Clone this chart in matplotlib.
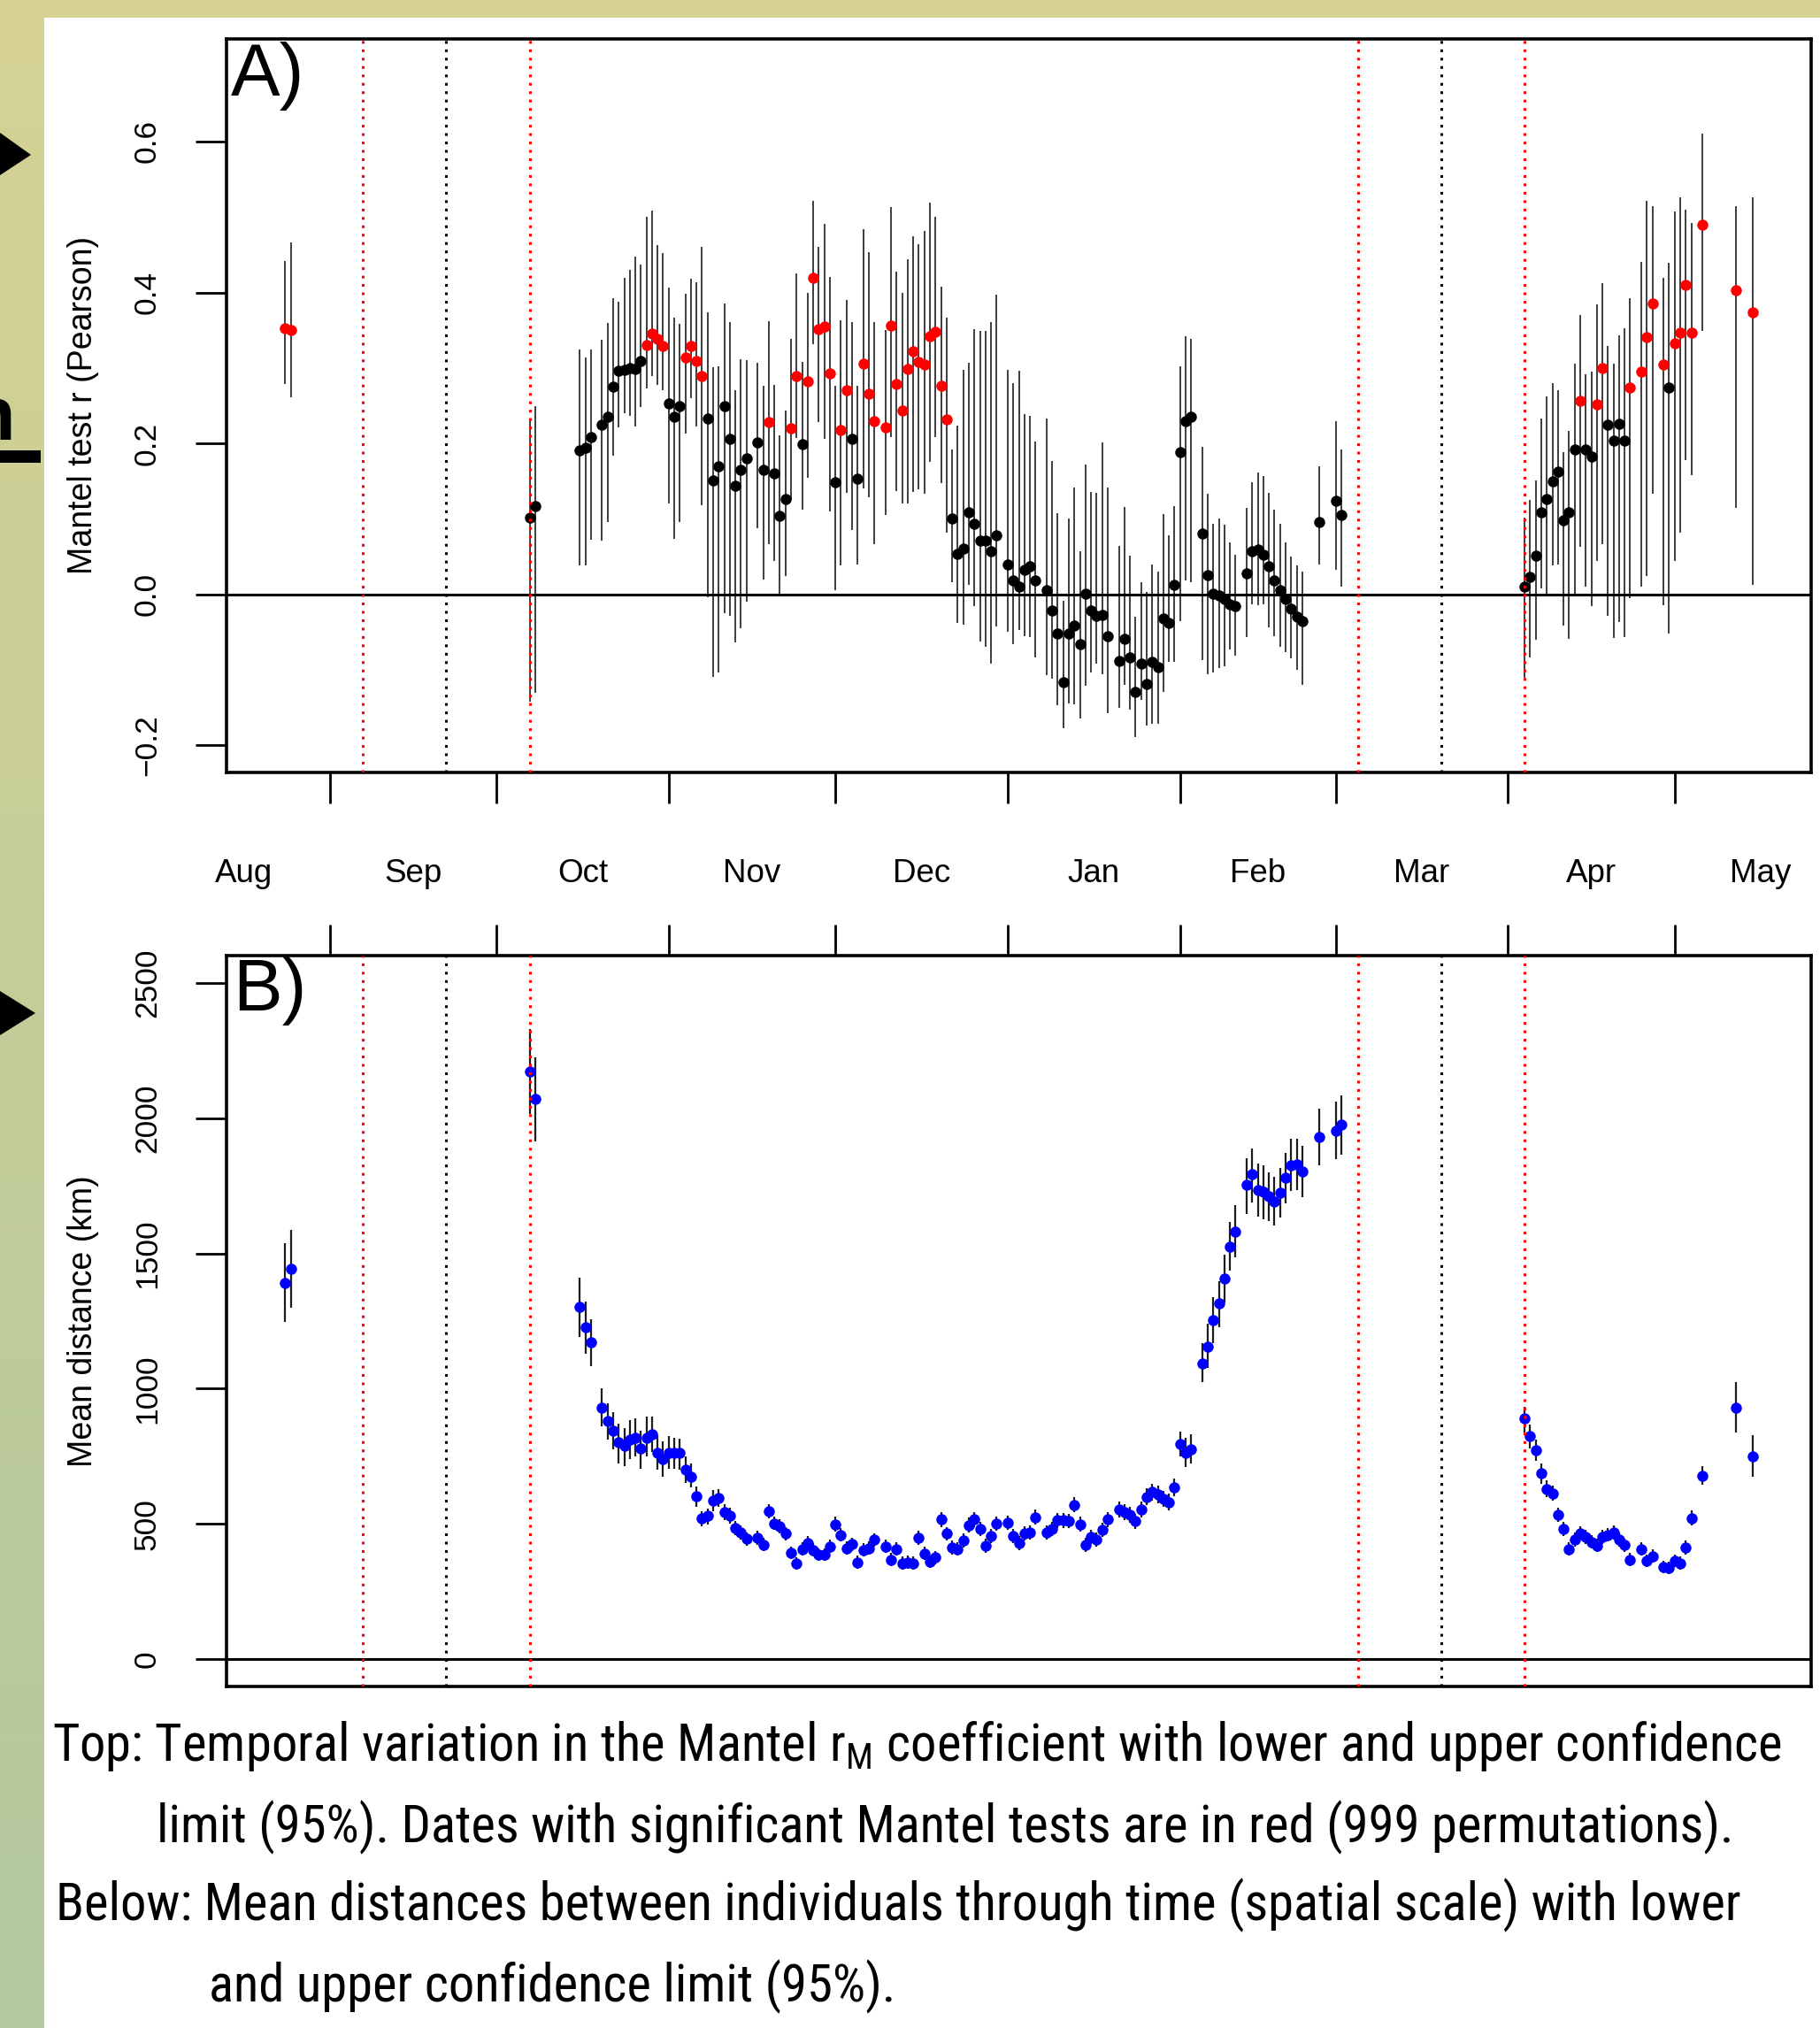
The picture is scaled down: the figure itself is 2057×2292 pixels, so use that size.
import numpy as np
import matplotlib
matplotlib.use("Agg")
import matplotlib.pyplot as plt
from matplotlib import font_manager
from matplotlib.colors import LinearSegmentedColormap
from matplotlib.patches import Rectangle, Polygon
from matplotlib.transforms import blended_transform_factory

# ---------------- data (day 0 = 1 September) ----------------
days = [-8, -7, 36, 37, 45, 46, 47,
        49, 50, 51, 52, 53, 54, 55, 56, 57, 58, 59, 60, 61, 62, 63, 64, 65, 66, 67,
        68, 69, 70, 71, 72, 73, 74, 75,
        77, 78, 79, 80, 81, 82, 83, 84, 85, 86, 87, 88, 89, 90, 91, 92, 93, 94, 95, 96, 97, 98,
        100, 101, 102, 103, 104, 105, 106, 107, 108, 109, 110, 111, 112, 113, 114, 115, 116, 117, 118, 119, 120,
        122, 123, 124, 125, 126, 127,
        129, 130, 131, 132, 133, 134, 135, 136, 137, 138, 139, 140,
        142, 143, 144, 145, 146, 147, 148, 149, 150, 151, 152, 153, 154, 155,
        157, 158, 159, 160, 161, 162, 163,
        165, 166, 167, 168, 169, 170, 171, 172, 173, 174, 175,
        178, 181, 182,
        215, 216, 217, 218, 219, 220, 221, 222, 223, 224, 225, 226, 227, 228, 229, 230, 231, 232, 233, 234,
        236, 237, 238, 240, 241, 242, 243, 244, 245, 247, 253, 256]

r_mantel = [0.353, 0.350, 0.102, 0.117, 0.191, 0.194, 0.208,
            0.225, 0.235, 0.275, 0.296, 0.298, 0.300, 0.299, 0.309, 0.330, 0.345, 0.338, 0.329, 0.253, 0.235, 0.249, 0.314, 0.329, 0.309, 0.289,
            0.233, 0.151, 0.170, 0.249, 0.206, 0.144, 0.165, 0.180,
            0.201, 0.165, 0.228, 0.160, 0.104, 0.126, 0.220, 0.289, 0.199, 0.282, 0.420, 0.352, 0.355, 0.293, 0.148, 0.218, 0.271, 0.206, 0.153, 0.306, 0.266, 0.229,
            0.221, 0.356, 0.279, 0.244, 0.299, 0.322, 0.308, 0.305, 0.342, 0.348, 0.276, 0.232, 0.100, 0.054, 0.061, 0.109, 0.094, 0.071, 0.071, 0.057, 0.078,
            0.040, 0.018, 0.010, 0.032, 0.037, 0.019,
            0.006, -0.021, -0.052, -0.116, -0.052, -0.041, -0.066, 0.001, -0.021, -0.028, -0.027, -0.056,
            -0.088, -0.059, -0.083, -0.129, -0.092, -0.119, -0.090, -0.096, -0.032, -0.038, 0.013, 0.188, 0.230, 0.235,
            0.081, 0.025, 0.001, -0.001, -0.006, -0.013, -0.016,
            0.028, 0.057, 0.060, 0.052, 0.037, 0.018, 0.006, -0.006, -0.019, -0.030, -0.035,
            0.096, 0.124, 0.105,
            0.010, 0.023, 0.051, 0.109, 0.126, 0.150, 0.163, 0.098, 0.109, 0.192, 0.257, 0.192, 0.182, 0.252, 0.300, 0.225, 0.204, 0.226, 0.204, 0.274,
            0.295, 0.341, 0.386, 0.304, 0.274, 0.333, 0.347, 0.410, 0.347, 0.490, 0.403, 0.374]

r_lo = [0.279, 0.261, -0.142, -0.131, 0.038, 0.038, 0.072,
        0.071, 0.096, 0.184, 0.221, 0.240, 0.236, 0.223, 0.248, 0.273, 0.289, 0.278, 0.270, 0.121, 0.074, 0.096, 0.213, 0.260, 0.222, 0.118,
        -0.004, -0.109, -0.104, -0.025, -0.028, -0.064, -0.045, -0.010,
        0.088, 0.020, 0.066, 0.044, 0.000, 0.024, 0.125, 0.207, 0.112, 0.155, 0.331, 0.228, 0.206, 0.110, 0.005, 0.038, 0.134, 0.085, 0.039, 0.140, 0.129, 0.066,
        0.105, 0.208, 0.137, 0.121, 0.120, 0.136, 0.139, 0.133, 0.175, 0.208, 0.147, 0.082, 0.016, -0.038, -0.040, 0.013, -0.015, -0.062, -0.069, -0.092, -0.043,
        -0.049, -0.066, -0.047, -0.056, -0.057, -0.084,
        -0.107, -0.112, -0.147, -0.177, -0.145, -0.146, -0.165, -0.121, -0.104, -0.092, -0.106, -0.158,
        -0.150, -0.120, -0.153, -0.189, -0.140, -0.174, -0.172, -0.172, -0.129, -0.090, -0.090, -0.035, 0.018, 0.016,
        -0.087, -0.106, -0.104, -0.098, -0.095, -0.073, -0.081,
        -0.057, -0.013, -0.014, -0.013, -0.044, -0.056, -0.069, -0.076, -0.085, -0.100, -0.120,
        0.040, 0.032, 0.010,
        -0.110, -0.084, -0.060, 0.008, -0.003, 0.038, 0.039, -0.041, -0.059, -0.003, 0.063, 0.010, -0.016, 0.044, 0.066, -0.028, -0.058, -0.037, -0.057, -0.005,
        0.010, 0.024, 0.133, -0.014, -0.052, 0.044, 0.082, 0.178, 0.158, 0.349, 0.114, 0.012]

r_hi = [0.442, 0.466, 0.232, 0.249, 0.324, 0.314, 0.324,
        0.337, 0.360, 0.393, 0.388, 0.420, 0.430, 0.447, 0.437, 0.500, 0.509, 0.463, 0.452, 0.407, 0.367, 0.358, 0.398, 0.418, 0.414, 0.461,
        0.374, 0.301, 0.302, 0.385, 0.361, 0.270, 0.312, 0.310,
        0.307, 0.276, 0.362, 0.278, 0.211, 0.244, 0.339, 0.425, 0.308, 0.399, 0.522, 0.461, 0.491, 0.421, 0.276, 0.363, 0.390, 0.361, 0.276, 0.484, 0.453, 0.361,
        0.350, 0.513, 0.428, 0.399, 0.444, 0.475, 0.464, 0.481, 0.519, 0.500, 0.408, 0.367, 0.192, 0.224, 0.298, 0.307, 0.352, 0.349, 0.349, 0.361, 0.397,
        0.298, 0.280, 0.296, 0.239, 0.237, 0.202,
        0.233, 0.177, 0.107, -0.008, 0.100, 0.142, 0.057, 0.172, 0.136, 0.135, 0.201, 0.141,
        0.064, 0.116, 0.051, -0.030, 0.016, 0.003, 0.040, 0.030, 0.106, 0.078, 0.117, 0.302, 0.342, 0.339,
        0.196, 0.133, 0.093, 0.100, 0.092, 0.069, 0.053,
        0.114, 0.148, 0.161, 0.157, 0.134, 0.112, 0.093, 0.069, 0.050, 0.038, 0.030,
        0.170, 0.230, 0.192,
        0.102, 0.125, 0.151, 0.233, 0.262, 0.280, 0.271, 0.188, 0.216, 0.306, 0.370, 0.292, 0.295, 0.384, 0.412, 0.329, 0.306, 0.343, 0.353, 0.392,
        0.440, 0.522, 0.514, 0.419, 0.439, 0.507, 0.526, 0.510, 0.492, 0.611, 0.514, 0.526]

significant_days = [-8, -7, 57, 58, 59, 60, 64, 65, 66, 67, 79, 83, 84, 86, 87, 88, 89, 90, 92, 93,
                    96, 97, 98, 100, 101, 102, 103, 104, 105, 106, 107, 108, 109, 110, 111,
                    225, 228, 229, 234, 236, 237, 238, 240, 242, 243, 244, 245, 247, 253, 256]

dist_km = [1392, 1444, 2171, 2071, 1301, 1227, 1171,
           930, 881, 844, 802, 790, 811, 819, 779, 819, 832, 763, 740, 762, 762, 762, 702, 676, 604, 520,
           530, 586, 597, 544, 530, 485, 469, 445,
           450, 424, 546, 502, 492, 464, 394, 354, 408, 429, 404, 387, 387, 417, 499, 460, 411, 425, 359, 404, 411, 441,
           417, 368, 408, 355, 359, 355, 448, 390, 361, 376, 517, 464, 413, 408, 439, 495, 517, 481, 420, 455, 501,
           504, 455, 431, 466, 469, 525,
           469, 481, 513, 513, 511, 571, 499, 422, 452, 443, 478, 517,
           553, 545, 534, 510, 553, 601, 618, 609, 592, 580, 634, 797, 762, 776,
           1094, 1156, 1254, 1315, 1406, 1525, 1581,
           1753, 1791, 1735, 1728, 1712, 1691, 1724, 1779, 1826, 1830, 1802,
           1931, 1954, 1977,
           889, 825, 772, 688, 630, 613, 534, 481, 408, 443, 466, 452, 434, 420, 452, 460, 469, 443, 422, 368,
           408, 364, 382, 341, 338, 364, 355, 413, 522, 679, 930, 749]

dist_lo = [1248, 1299, 2015, 1914, 1192, 1129, 1084,
           860, 811, 776, 723, 714, 741, 749, 705, 749, 767, 702, 674, 705, 705, 702, 653, 635, 565, 492,
           499, 548, 565, 515, 502, 460, 444, 420,
           424, 400, 520, 478, 467, 440, 372, 332, 384, 405, 380, 364, 364, 393, 472, 436, 387, 400, 336, 380, 386, 416,
           392, 345, 383, 332, 336, 332, 422, 366, 338, 352, 490, 438, 388, 383, 413, 468, 489, 455, 395, 429, 474,
           477, 429, 405, 440, 443, 497,
           443, 455, 486, 486, 484, 543, 472, 397, 426, 417, 451, 489,
           524, 516, 505, 482, 524, 571, 587, 578, 562, 550, 602, 749, 711, 723,
           1024, 1077, 1169, 1227, 1318, 1436, 1485,
           1647, 1689, 1637, 1625, 1619, 1604, 1633, 1686, 1730, 1735, 1707,
           1826, 1847, 1866,
           837, 779, 732, 650, 599, 585, 508, 456, 384, 418, 441, 427, 409, 396, 427, 435, 444, 418, 397, 345,
           384, 341, 358, 319, 316, 341, 332, 388, 494, 644, 837, 674]

dist_hi = [1537, 1588, 2330, 2225, 1411, 1322, 1255,
           1000, 947, 912, 872, 854, 884, 889, 846, 898, 898, 828, 807, 825, 819, 814, 749, 723, 639, 548,
           557, 627, 630, 575, 560, 512, 495, 470,
           476, 448, 574, 527, 518, 490, 418, 378, 432, 455, 430, 411, 411, 441, 527, 486, 436, 450, 383, 429, 437, 467,
           442, 392, 433, 379, 383, 379, 475, 415, 385, 401, 545, 490, 439, 434, 466, 523, 545, 508, 446, 482, 529,
           532, 482, 457, 493, 496, 553,
           496, 508, 541, 541, 539, 600, 527, 448, 479, 470, 506, 545,
           583, 575, 564, 539, 583, 632, 650, 641, 623, 611, 667, 842, 819, 832,
           1169, 1239, 1339, 1397, 1494, 1616, 1677,
           1852, 1887, 1831, 1826, 1800, 1782, 1814, 1870, 1922, 1922, 1896,
           2033, 2062, 2085,
           933, 867, 811, 723, 660, 643, 560, 507, 432, 468, 491, 477, 459, 445, 477, 486, 495, 468, 447, 392,
           433, 388, 406, 364, 361, 388, 379, 439, 551, 714, 1024, 828]

month_names = ["Aug", "Sep", "Oct", "Nov", "Dec", "Jan", "Feb", "Mar", "Apr", "May"]
month_starts = [-31, 0, 30, 61, 91, 122, 153, 181, 212, 242, 273]
equinox_days = [21, 200]          # black dotted
window_days = [6, 36, 185, 215]   # red dotted (equinox +/- 15 days)

r_ticks = [-0.2, 0.0, 0.2, 0.4, 0.6]
r_ticklabels = ["\u22120.2", "0.0", "0.2", "0.4", "0.6"]
dist_ticks = [0, 500, 1000, 1500, 2000, 2500]
dist_ticklabels = ["0", "500", "1000", "1500", "2000", "2500"]

caption_lines = [
    "Top: Temporal variation in the Mantel r$_\\mathregular{M}$ coefficient with lower and upper confidence",
    "limit (95%). Dates with significant Mantel tests are in red (999 permutations).",
    "Below: Mean distances between individuals through time (spatial scale) with lower",
    "and upper confidence limit (95%).",
]

# ---------------- figure ----------------
W, H, DPI = 2057, 2292, 100
def fx(px): return px / W
def fy(py): return 1 - py / H

plt.rcParams['font.family'] = ['Liberation Sans', 'DejaVu Sans']
avail = {f.name for f in font_manager.fontManager.ttflist}
cap_font = next((f for f in ['Roboto Condensed', 'PT Sans Narrow', 'Open Sans Condensed', 'Liberation Sans'] if f in avail), 'DejaVu Sans')

fig = plt.figure(figsize=(W / DPI, H / DPI), dpi=DPI, facecolor='white')

# slide background (left and top strips)
bg = fig.add_axes([0, 0, 1, 1], zorder=-10)
bg.set_xlim(0, W); bg.set_ylim(H, 0); bg.axis('off')
strip = LinearSegmentedColormap.from_list('strip', ['#d5d293', '#c4cd98', '#b2c89f'])
bg.imshow(np.linspace(0, 1, 256).reshape(-1, 1), extent=(0, 50, H, 0), cmap=strip, aspect='auto', zorder=0)
bg.add_patch(Rectangle((0, 0), W, 20, color='#d5d293', lw=0, zorder=1))
bg.add_patch(Polygon([(0, 150), (35, 175), (0, 198)], closed=True, color='black', lw=0, zorder=2))
bg.add_patch(Polygon([(0, 1120), (40, 1145), (0, 1170)], closed=True, color='black', lw=0, zorder=2))
bg.add_patch(Rectangle((0, 509), 46, 14, color='black', lw=0, zorder=2))
bg.text(17, 497, "n", fontsize=62, fontweight='bold', ha='right', va='baseline', color='black', zorder=2)

d = np.array(days)
sig = np.isin(d, significant_days)
r = np.array(r_mantel)
dk = np.array(dist_km)
span = d.max() - d.min()
xlim = (d.min() - 0.04 * span, d.max() + 0.04 * span)

axA = fig.add_axes([fx(256), fy(873), fx(2047) - fx(256), fy(44) - fy(873)])
axB = fig.add_axes([fx(256), fy(1906), fx(2047) - fx(256), fy(1080) - fy(1906)])

dot_style = (0, (1, 2.1))
for ax in (axA, axB):
    ax.set_xlim(*xlim)
    for v in window_days:
        ax.axvline(v, color='red', lw=2.2, ls=dot_style, zorder=5)
    for v in equinox_days:
        ax.axvline(v, color='black', lw=2.2, ls=dot_style, zorder=5)
    ax.axhline(0, color='black', lw=2.2, zorder=4)
    for s in ax.spines.values():
        s.set_linewidth(2.6)
    ax.set_xticks(month_starts[1:-1])

# Panel A
axA.vlines(d, r_lo, r_hi, colors='#1c1c1c', lw=1.2, zorder=2)
axA.plot(d[~sig], r[~sig], 'o', color='black', ms=9, mew=0, zorder=3)
axA.plot(d[sig], r[sig], 'o', color='#ff0000', ms=9, mew=0, zorder=3)
axA.set_ylim(-0.2 - 0.036, 0.7 + 0.036)
axA.set_yticks(r_ticks)
axA.set_yticklabels(r_ticklabels, rotation=90, va='center')
axA.xaxis.set_ticks_position('bottom')

# Panel B
axB.vlines(d, dist_lo, dist_hi, colors='#1c1c1c', lw=1.6, zorder=2)
axB.plot(d, dk, 'o', color='#0000ff', ms=9, mew=0, zorder=3)
axB.set_ylim(-100, 2600)
axB.set_yticks(dist_ticks)
axB.set_yticklabels(dist_ticklabels, rotation=90, va='center')
axB.xaxis.set_ticks_position('top')

for ax in (axA, axB):
    ax.tick_params(axis='x', length=25, width=2, labelbottom=False, labeltop=False)
    ax.tick_params(axis='y', length=25, width=2, labelsize=25.5, pad=27.5)

# month labels between panels
trans = blended_transform_factory(axA.transData, fig.transFigure)
for name, m0, m1 in zip(month_names, month_starts[:-1], month_starts[1:]):
    axA.text((m0 + m1) / 2, fy(997), name, transform=trans, ha='center', va='baseline',
             fontsize=26.5, clip_on=False)

fig.text(fx(94), fy(458), "Mantel test r (Pearson)", rotation=90, ha='center', va='center', fontsize=27)
fig.text(fx(94), fy(1493), "Mean distance (km)", rotation=90, ha='center', va='center', fontsize=27)

fig.text(fx(261), fy(108), "A)", fontsize=60, ha='left', va='baseline')
fig.text(fx(263), fy(1142), "B)", fontsize=60, ha='left', va='baseline')

# caption
renderer = fig.canvas.get_renderer()
probe = fig.text(0, 0, caption_lines[0], fontsize=40, family=[cap_font, 'DejaVu Sans'])
wpx = probe.get_window_extent(renderer).width
probe.remove()
cap_size = 40 * 1954 / wpx
cap_pos = [(59, 1990), (177, 2082), (63, 2170), (236, 2262)]
for line, (x0, y0) in zip(caption_lines, cap_pos):
    fig.text(fx(x0), fy(y0), line, fontsize=cap_size, family=[cap_font, 'DejaVu Sans'],
             ha='left', va='baseline')

fig.savefig("out.png", dpi=DPI, facecolor='white')
